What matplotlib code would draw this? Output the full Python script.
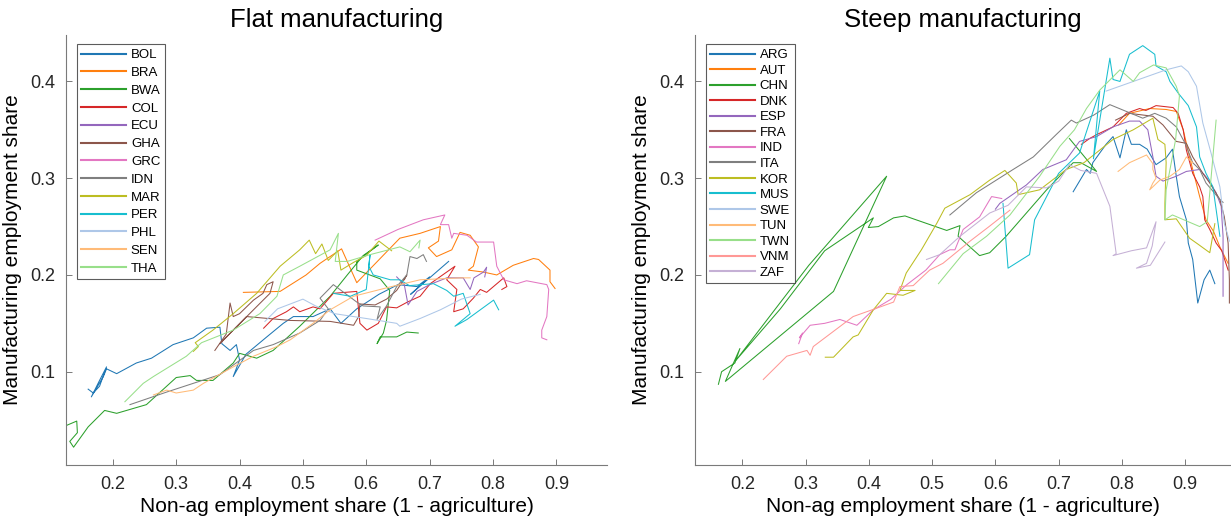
import matplotlib
matplotlib.use("Agg")
import matplotlib.pyplot as plt
import numpy as np

plt.rcParams['font.family'] = ['Liberation Sans', 'DejaVu Sans']

# ---- Flat manufacturing (non-ag share, manufacturing share) ----
BOL = [(0.161,0.082),(0.169,0.078),(0.179,0.085),(0.190,0.105),(0.179,0.091),(0.166,0.074),(0.185,0.095),
       (0.190,0.103),(0.206,0.098),(0.237,0.109),(0.261,0.114),(0.295,0.128),(0.327,0.135),(0.348,0.145),
       (0.369,0.146),(0.372,0.129),(0.385,0.122),(0.395,0.128),(0.400,0.112),(0.390,0.095),(0.410,0.118),
       (0.443,0.136),(0.469,0.150),(0.485,0.157),(0.516,0.157),(0.543,0.165),(0.560,0.150),(0.585,0.165),
       (0.620,0.180),(0.650,0.190),(0.680,0.188),(0.700,0.198),(0.670,0.180),(0.730,0.214)]
BRA = [(0.406,0.182),(0.464,0.183),(0.505,0.200),(0.527,0.212),(0.561,0.227),(0.585,0.192),(0.653,0.238),
       (0.685,0.243),(0.717,0.250),(0.714,0.235),(0.698,0.228),(0.711,0.219),(0.735,0.226),(0.748,0.244),
       (0.764,0.241),(0.777,0.229),(0.769,0.209),(0.761,0.205),(0.785,0.203),(0.806,0.200),(0.832,0.210),
       (0.864,0.217),(0.872,0.216),(0.890,0.205),(0.890,0.193),(0.898,0.186)]
BWA = [(0.125,0.044),(0.143,0.049),(0.144,0.037),(0.132,0.028),(0.138,0.022),(0.161,0.043),(0.187,0.060),
       (0.206,0.057),(0.253,0.066),(0.300,0.094),(0.322,0.096),(0.332,0.091),(0.358,0.091),(0.390,0.109),
       (0.400,0.119),(0.427,0.114),(0.453,0.122),(0.495,0.147),(0.543,0.178),(0.570,0.200),(0.595,0.220),
       (0.619,0.231),(0.585,0.214),(0.585,0.205),(0.622,0.196),(0.637,0.184),(0.632,0.153),(0.627,0.140),
       (0.617,0.129),(0.622,0.136),(0.648,0.136),(0.664,0.141),(0.682,0.140)]
COL = [(0.438,0.145),(0.453,0.155),(0.474,0.162),(0.485,0.167),(0.495,0.162),(0.516,0.167),(0.527,0.165),
       (0.548,0.181),(0.585,0.183),(0.590,0.150),(0.601,0.143),(0.619,0.150),(0.632,0.167),(0.648,0.166),
       (0.665,0.172),(0.685,0.178),(0.701,0.191),(0.740,0.209),(0.727,0.195),(0.743,0.185),(0.738,0.162),
       (0.753,0.165),(0.769,0.176),(0.780,0.185),(0.790,0.182),(0.817,0.197),(0.822,0.188),(0.814,0.185)]
ECU = [(0.648,0.198),(0.660,0.190),(0.666,0.169),(0.680,0.183),(0.700,0.190),(0.727,0.197),(0.753,0.197),
       (0.764,0.185),(0.770,0.197),(0.785,0.203),(0.790,0.208),(0.787,0.198)]
GHA = [(0.361,0.122),(0.379,0.139),(0.385,0.171),(0.390,0.157),(0.400,0.160),(0.422,0.174),(0.437,0.181),
       (0.443,0.190),(0.453,0.193),(0.448,0.181),(0.422,0.164),(0.390,0.143),(0.369,0.129),(0.411,0.157),
       (0.480,0.153),(0.543,0.152),(0.580,0.148),(0.588,0.157),(0.590,0.170),(0.614,0.169),(0.632,0.175),
       (0.648,0.184),(0.664,0.200),(0.660,0.195)]
GRC = [(0.614,0.236),(0.650,0.247),(0.690,0.257),(0.724,0.262),(0.717,0.252),(0.730,0.252),(0.735,0.238),
       (0.738,0.243),(0.759,0.241),(0.774,0.234),(0.801,0.234),(0.806,0.209),(0.817,0.195),(0.838,0.191),
       (0.853,0.194),(0.885,0.190),(0.888,0.185),(0.885,0.157),(0.877,0.143),(0.877,0.135),(0.885,0.133)]
IDN = [(0.227,0.066),(0.285,0.079),(0.327,0.088),(0.369,0.097),(0.422,0.122),(0.453,0.128),(0.495,0.140),
       (0.527,0.153),(0.540,0.165),(0.527,0.176),(0.548,0.190),(0.585,0.172),(0.595,0.168),(0.622,0.167),
       (0.617,0.154),(0.632,0.168),(0.648,0.188),(0.664,0.200),(0.669,0.219),(0.680,0.217),(0.690,0.221),
       (0.695,0.214)]
MAR = [(0.327,0.121),(0.335,0.126),(0.330,0.130),(0.358,0.143),(0.390,0.160),(0.427,0.181),(0.464,0.209),
       (0.495,0.226),(0.510,0.236),(0.520,0.222),(0.530,0.232),(0.540,0.215),(0.555,0.225),(0.560,0.205),
       (0.580,0.213),(0.600,0.220),(0.620,0.235),(0.640,0.225)]
PER = [(0.548,0.181),(0.575,0.178),(0.600,0.185),(0.606,0.221),(0.604,0.209),(0.611,0.200),(0.622,0.198),
       (0.638,0.195),(0.653,0.195),(0.668,0.189),(0.706,0.191),(0.727,0.184),(0.738,0.178),(0.753,0.181),
       (0.764,0.160),(0.740,0.147),(0.759,0.154),(0.780,0.164),(0.801,0.174),(0.809,0.164)]
PHL = [(0.440,0.152),(0.460,0.165),(0.480,0.170),(0.500,0.175),(0.520,0.168),(0.550,0.160),(0.600,0.155),
       (0.648,0.150),(0.653,0.147),(0.685,0.155),(0.717,0.164),(0.750,0.175),(0.780,0.180)]
SEN = [(0.264,0.076),(0.285,0.081),(0.300,0.078),(0.327,0.081),(0.343,0.088),(0.390,0.105),(0.422,0.116),
       (0.459,0.126),(0.480,0.133),(0.516,0.150),(0.543,0.164),(0.580,0.178),(0.640,0.188),(0.685,0.195),
       (0.748,0.197),(0.764,0.197)]
THA = [(0.219,0.069),(0.248,0.088),(0.264,0.095),(0.316,0.116),(0.340,0.130),(0.390,0.143),(0.432,0.160),
       (0.459,0.178),(0.469,0.200),(0.495,0.209),(0.543,0.226),(0.556,0.243),(0.551,0.214),(0.570,0.214),
       (0.606,0.221),(0.653,0.229),(0.669,0.224),(0.685,0.236),(0.683,0.228)]

# ---- Steep manufacturing ----
ARG = [(0.723,0.286),(0.744,0.309),(0.750,0.305),(0.754,0.316),(0.765,0.326),(0.775,0.335),(0.786,0.343),
       (0.797,0.321),(0.807,0.350),(0.815,0.335),(0.828,0.335),(0.840,0.330),(0.854,0.314),(0.870,0.321),
       (0.880,0.330),(0.886,0.302),(0.891,0.281),(0.902,0.257),(0.905,0.233),(0.912,0.216),(0.920,0.171),
       (0.930,0.195),(0.939,0.205),(0.947,0.191)]
AUT = [(0.795,0.355),(0.812,0.367),(0.844,0.372),(0.870,0.371),(0.886,0.369),(0.897,0.350),(0.907,0.322),
       (0.923,0.281),(0.933,0.257),(0.945,0.245),(0.955,0.229),(0.968,0.212)]
CHN = [(0.162,0.087),(0.167,0.100),(0.188,0.109),(0.196,0.124),(0.173,0.090),(0.344,0.183),(0.428,0.302),
       (0.305,0.210),(0.190,0.112),(0.260,0.165),(0.330,0.225),(0.407,0.259),(0.399,0.249),(0.415,0.250),
       (0.439,0.259),(0.457,0.261),(0.523,0.246),(0.544,0.251),(0.541,0.240),(0.575,0.220),(0.591,0.223),
       (0.617,0.240),(0.681,0.288),(0.712,0.309),(0.723,0.316),(0.735,0.316),(0.760,0.307),(0.717,0.341)]
DNK = [(0.736,0.335),(0.749,0.341),(0.760,0.345),(0.786,0.353),(0.807,0.367),(0.828,0.372),(0.838,0.370),
       (0.854,0.375),(0.881,0.373),(0.889,0.367),(0.897,0.350),(0.902,0.329),(0.912,0.305),(0.923,0.291),
       (0.928,0.281),(0.931,0.257),(0.939,0.247),(0.949,0.233),(0.958,0.225),(0.968,0.205)]
ESP = [(0.600,0.268),(0.607,0.274),(0.649,0.293),(0.675,0.309),(0.712,0.319),(0.733,0.338),(0.760,0.343),
       (0.786,0.353),(0.812,0.359),(0.828,0.359),(0.841,0.350),(0.849,0.322),(0.854,0.302),(0.865,0.297),
       (0.886,0.302),(0.902,0.307),(0.923,0.309),(0.935,0.300),(0.949,0.285),(0.957,0.271),(0.960,0.240),
       (0.960,0.178)]
FRA = [(0.790,0.360),(0.812,0.367),(0.849,0.364),(0.865,0.355),(0.886,0.338),(0.902,0.336),(0.912,0.322),
       (0.928,0.305),(0.939,0.295),(0.955,0.278),(0.962,0.260),(0.968,0.233),(0.970,0.195),(0.970,0.171)]
IND = [(0.289,0.129),(0.295,0.140),(0.290,0.135),(0.307,0.148),(0.330,0.150),(0.354,0.154),(0.381,0.148),
       (0.407,0.164),(0.435,0.175),(0.460,0.190),(0.490,0.205),(0.512,0.221),(0.528,0.226),(0.536,0.226),
       (0.549,0.247),(0.575,0.260),(0.594,0.281),(0.610,0.279)]
ITA = [(0.528,0.262),(0.570,0.285),(0.628,0.309),(0.660,0.322),(0.696,0.345),(0.720,0.360),(0.728,0.357),
       (0.755,0.365),(0.781,0.376),(0.807,0.369),(0.833,0.362),(0.852,0.367),(0.870,0.362),(0.886,0.353),
       (0.900,0.336),(0.912,0.316),(0.923,0.309),(0.933,0.295),(0.955,0.278),(0.960,0.275)]
KOR = [(0.331,0.115),(0.344,0.115),(0.375,0.136),(0.383,0.138),(0.407,0.164),(0.428,0.181),(0.454,0.179),
       (0.473,0.184),(0.449,0.184),(0.459,0.202),(0.483,0.226),(0.507,0.253),(0.520,0.269),(0.560,0.283),
       (0.591,0.298),(0.615,0.308),(0.633,0.295),(0.636,0.283),(0.670,0.288),(0.712,0.309),(0.740,0.316),
       (0.786,0.340),(0.818,0.350),(0.849,0.362),(0.857,0.340),(0.868,0.335),(0.870,0.316),(0.868,0.274),
       (0.868,0.257),(0.886,0.258),(0.907,0.238),(0.920,0.232),(0.939,0.223),(0.947,0.253)]
MUS = [(0.612,0.274),(0.620,0.207),(0.654,0.221),(0.662,0.257),(0.700,0.305),(0.733,0.326),(0.765,0.390),
       (0.755,0.320),(0.781,0.424),(0.786,0.402),(0.797,0.400),(0.812,0.428),(0.833,0.437),(0.852,0.428),
       (0.854,0.416),(0.870,0.410),(0.876,0.400),(0.889,0.388),(0.905,0.375),(0.918,0.353),(0.923,0.322),
       (0.933,0.305),(0.944,0.291),(0.955,0.240)]
SWE = [(0.775,0.390),(0.870,0.412),(0.894,0.416),(0.905,0.410),(0.918,0.395),(0.928,0.357),(0.941,0.326),
       (0.955,0.291),(0.962,0.253),(0.968,0.240),(0.970,0.235)]
TUN = [(0.794,0.307),(0.812,0.316),(0.839,0.324),(0.849,0.315),(0.849,0.309),(0.854,0.300),(0.849,0.295),
       (0.844,0.288),(0.860,0.298),(0.876,0.302),(0.891,0.309),(0.902,0.322),(0.912,0.316)]
TWN = [(0.510,0.191),(0.549,0.222),(0.586,0.240),(0.623,0.262),(0.670,0.302),(0.702,0.333),(0.725,0.350),
       (0.744,0.372),(0.765,0.391),(0.797,0.412),(0.818,0.400),(0.828,0.409),(0.850,0.417),(0.870,0.414),
       (0.886,0.395),(0.891,0.385),(0.885,0.340),(0.870,0.288),(0.868,0.257),(0.880,0.262),(0.923,0.250),
       (0.935,0.255),(0.949,0.360)]
VNM = [(0.233,0.092),(0.270,0.116),(0.302,0.122),(0.307,0.117),(0.312,0.126),(0.375,0.157),(0.418,0.167),
       (0.439,0.172),(0.449,0.188),(0.470,0.189),(0.496,0.205),(0.517,0.212),(0.560,0.235),(0.590,0.250),
       (0.623,0.267)]
ZAF = [(0.491,0.216),(0.512,0.221),(0.544,0.240),(0.591,0.264),(0.620,0.272),(0.649,0.291),(0.681,0.290),
       (0.700,0.297),(0.717,0.314),(0.735,0.308),(0.760,0.305),(0.781,0.271),(0.791,0.222),(0.786,0.220),
       (0.815,0.225),(0.839,0.228),(0.854,0.255),(0.848,0.230),(0.839,0.212),(0.823,0.207),(0.845,0.210),
       (0.868,0.234)]

flat_names = ["BOL", "BRA", "BWA", "COL", "ECU", "GHA", "GRC", "IDN", "MAR", "PER", "PHL", "SEN", "THA"]
flat_series = [BOL, BRA, BWA, COL, ECU, GHA, GRC, IDN, MAR, PER, PHL, SEN, THA]
steep_names = ["ARG", "AUT", "CHN", "DNK", "ESP", "FRA", "IND", "ITA", "KOR", "MUS", "SWE", "TUN", "TWN", "VNM", "ZAF"]
steep_series = [ARG, AUT, CHN, DNK, ESP, FRA, IND, ITA, KOR, MUS, SWE, TUN, TWN, VNM, ZAF]

colors = ["#1f77b4", "#ff7f0e", "#2ca02c", "#d62728", "#9467bd", "#8c564b", "#e377c2",
          "#7f7f7f", "#bcbd22", "#17becf", "#aec7e8", "#ffbb78", "#98df8a", "#ff9896", "#c5b0d5"]

axis_col = "#262626"

fig = plt.figure(figsize=(12.31, 5.22), dpi=100)
ax1 = fig.add_axes([0.0536, 0.109, 0.4395, 0.824])
ax2 = fig.add_axes([0.5646, 0.109, 0.4346, 0.824])


def draw_panel(ax, names, series, title, xlim, spacing):
    for i, (name, pts) in enumerate(zip(names, series)):
        x = [p[0] for p in pts]
        y = [p[1] for p in pts]
        ax.plot(x, y, color=colors[i], lw=0.75, label=name)
    ax.set_xlim(*xlim)
    ax.set_ylim(0.0035, 0.448)
    ax.set_xticks([0.2, 0.3, 0.4, 0.5, 0.6, 0.7, 0.8, 0.9])
    ax.set_yticks([0.1, 0.2, 0.3, 0.4])
    ax.set_title(title, fontsize=18.5, pad=6)
    ax.set_xlabel("Non-ag employment share (1 - agriculture)", fontsize=15, labelpad=3)
    ax.set_ylabel("Manufacturing employment share", fontsize=15, labelpad=6)
    for s in ["top", "right"]:
        ax.spines[s].set_visible(False)
    for s in ["left", "bottom"]:
        ax.spines[s].set_color("#7a7a7a")
        ax.spines[s].set_linewidth(0.8)
    ax.tick_params(direction="in", length=4, width=0.7, color="#7a7a7a",
                   labelsize=13, labelcolor=axis_col, pad=8)
    leg = ax.legend(loc="upper left", bbox_to_anchor=(0.02, 0.978), fontsize=9.5,
                    frameon=True, fancybox=False, edgecolor="#333333",
                    handlelength=3.4, handletextpad=0.35, labelspacing=spacing,
                    borderpad=0.35, borderaxespad=0.0)
    leg.get_frame().set_linewidth(0.8)
    for ln in leg.get_lines():
        ln.set_linewidth(1.5)


draw_panel(ax1, flat_names, flat_series, "Flat manufacturing", (0.126, 0.98), 0.42)
draw_panel(ax2, steep_names, steep_series, "Steep manufacturing", (0.125, 0.971), 0.25)

fig.savefig("out.png", dpi=100)
